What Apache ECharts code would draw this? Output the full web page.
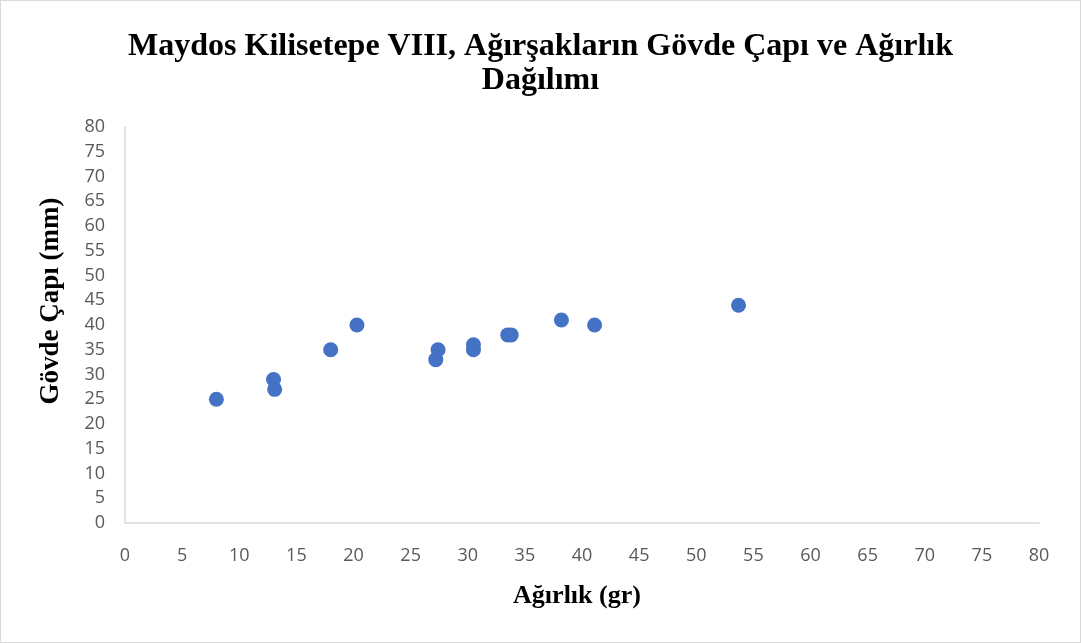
<!DOCTYPE html>
<html>
<head>
<meta charset="utf-8">
<script src="https://cdn.jsdelivr.net/npm/echarts@6/dist/echarts.min.js"></script>
<style>
html,body{margin:0;padding:0;background:#fff;}
#c{width:1081px;height:643px;box-sizing:border-box;border:1px solid #d9d9d9;}
</style>
</head>
<body>
<div id="c"></div>
<script>
const titleText = 'Maydos Kilisetepe VIII, Ağırşakların Gövde Çapı ve Ağırlık\nDağılımı';
const xName = 'Ağırlık (gr)';
const yName = 'Gövde Çapı (mm)';
const weights = [8, 13, 13.1, 18, 20.3, 27.2, 27.4, 30.5, 30.5, 33.5, 33.8, 38.2, 41.1, 53.7];
const diameters = [25, 29, 27, 35, 40, 33, 35, 36, 35, 38, 38, 41, 40, 44];

const chart = echarts.init(document.getElementById('c'));
chart.setOption({
  animation: false,
  title: {
    text: titleText,
    left: 'center',
    top: 24,
    textStyle: {fontFamily: 'Liberation Serif', fontWeight: 'bold', fontSize: 32, color: '#000', lineHeight: 34}
  },
  grid: {left: 124, right: 41, top: 126, bottom: 119, containLabel: false},
  xAxis: {
    type: 'value', min: 0, max: 80, interval: 5,
    name: xName, nameLocation: 'middle', nameGap: 60,
    nameTextStyle: {fontFamily: 'Liberation Serif', fontWeight: 'bold', fontSize: 26, color: '#000', padding: [0, 10, 0, 0]},
    axisLine: {show: true, lineStyle: {color: '#d9d9d9', width: 1.5}},
    axisTick: {show: false},
    splitLine: {show: false},
    axisLabel: {fontFamily: 'Open Sans', fontSize: 18, color: '#595959', margin: 24}
  },
  yAxis: {
    type: 'value', min: 0, max: 80, interval: 5,
    name: yName, nameLocation: 'middle', nameGap: 60, nameRotate: 90,
    nameTextStyle: {fontFamily: 'Liberation Serif', fontWeight: 'bold', fontSize: 27, color: '#000', padding: [0, 0, 0, 48]},
    axisLine: {show: true, lineStyle: {color: '#d9d9d9', width: 1.5}},
    axisTick: {show: false},
    splitLine: {show: false},
    axisLabel: {fontFamily: 'Open Sans', fontSize: 18, color: '#595959', margin: 20}
  },
  series: [{
    type: 'scatter',
    symbolSize: 15,
    itemStyle: {color: '#4472C4', opacity: 1},
    data: weights.map((w, i) => [w, diameters[i]])
  }]
});
</script>
</body>
</html>
